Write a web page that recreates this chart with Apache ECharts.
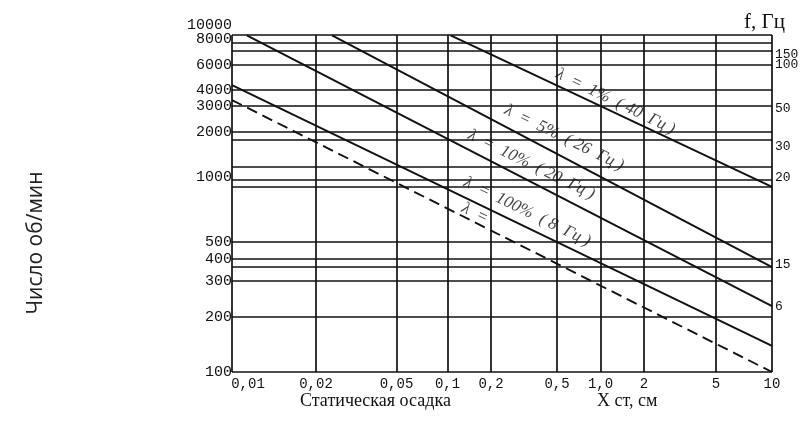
<!DOCTYPE html>
<html><head><meta charset="utf-8">
<script src="https://cdn.jsdelivr.net/npm/echarts@6/dist/echarts.min.js"></script>
<style>html,body{margin:0;padding:0;background:#fff}#c{width:805px;height:432px}</style>
</head><body><div id="c"></div>
<script>
// ---------- data ----------
const xTickValues = [0.01, 0.02, 0.05, 0.1, 0.2, 0.5, 1, 2, 5, 10];
const xTickLabels = ['0,01', '0,02', '0,05', '0,1', '0,2', '0,5', '1,0', '2', '5', '10'];
const yTickValues = [100, 200, 300, 400, 500, 1000, 2000, 3000, 4000, 6000, 8000, 10000];
const yTickLabels = ['100', '200', '300', '400', '500', '1000', '2000', '3000', '4000', '6000', '8000', '10000'];
const fTickValues = [150, 100, 50, 30, 20, 15, 6];
const fTickLabels = ['150', '100', '50', '30', '20', '15', '6'];
// horizontal rulings of the nomogram, об/мин
const hRulings = [7650, 7000, 6000, 4000, 3000, 2000, 1770, 1170, 970, 900, 500, 400, 360, 300, 200];
// curves: X ст (см) and число об/мин at both ends
const curveNames = ['λ = 1%', 'λ = 5%', 'λ = 10%', 'λ = 100%', 'λ'];
const curveX = [[0.105, 10], [0.024, 10], [0.0113, 10], [0.01, 10], [0.01, 10]];
const curveRpm = [[8500, 900], [8500, 360], [8500, 226], [4340, 139], [3345, 100]];
// handwritten notes along the curves
const noteTexts = ['λ  =  1%  ( 40  Гц )', 'λ  =  5%  ( 26  Гц )', 'λ  =  10%  ( 20  Гц )', 'λ  =  100%  ( 8  Гц )', 'λ  ='];
const noteX = [1.27, 0.56, 0.35, 0.33, 0.155];
const noteRpm = [3250, 1830, 1210, 690, 680];

// ---------- calibration of the drawing's non-uniform scales (tick -> share of axis length) ----------
const xTickFrac = [0, 0.1556, 0.3046, 0.3991, 0.4796, 0.6019, 0.6824, 0.7630, 0.8963, 1];
const yTickFrac = [0, 0.1632, 0.2700, 0.3353, 0.3858, 0.5786, 0.7122, 0.7893, 0.8368, 0.9110, 0.9881, 1.0297];
const fTickFrac = [0.9436, 0.9139, 0.7834, 0.6706, 0.5757, 0.3175, 0.1929];

function calib(v, ticks, fracs) {
  let i = 0;
  while (i < ticks.length - 2 && v > ticks[i + 1]) i++;
  const a = Math.log(ticks[i]), b = Math.log(ticks[i + 1]);
  return fracs[i] + (Math.log(v) - a) / (b - a) * (fracs[i + 1] - fracs[i]);
}
const sx = v => calib(v, xTickValues, xTickFrac);
const sy = v => calib(v, yTickValues, yTickFrac);
function nearestLabel(v, fracs, labels) {
  let best = 0;
  fracs.forEach((f, i) => { if (Math.abs(f - v) < Math.abs(fracs[best] - v)) best = i; });
  return labels[best];
}

const INK = '#111';
const mono = 'Liberation Mono';
const serif = 'Liberation Serif';

const rulings = [];
// frame
rulings.push([{ coord: [0, 0] }, { coord: [1, 0] }]);
rulings.push([{ coord: [0, 1] }, { coord: [1, 1] }]);
xTickFrac.forEach(f => rulings.push([{ coord: [f, 0] }, { coord: [f, 1] }]));
hRulings.forEach(r => rulings.push([{ coord: [0, sy(r)] }, { coord: [1, sy(r)] }]));

const series = [{
  type: 'line', data: [[0, 0]], symbol: 'none', lineStyle: { opacity: 0 }, silent: true,
  markLine: {
    silent: true, symbol: ['none', 'none'], label: { show: false },
    lineStyle: { color: INK, width: 1.7, type: 'solid' }, emphasis: { disabled: true },
    data: rulings
  }
}];
curveNames.forEach((n, i) => {
  series.push({
    name: n, type: 'line', symbol: 'none', silent: true,
    data: curveX[i].map((x, k) => [sx(x), sy(curveRpm[i][k])]),
    lineStyle: { color: INK, width: 1.9, type: i === 4 ? [11, 6] : 'solid' }
  });
});
series.push({
  type: 'scatter', symbolSize: 0, silent: true,
  data: noteTexts.map((t, i) => ({ value: [sx(noteX[i]), sy(noteRpm[i])], name: t })),
  label: {
    show: true, position: 'inside', formatter: p => p.name, rotate: -26,
    fontFamily: serif, fontStyle: 'italic', fontSize: 17, color: INK
  }
});

// value axes carrying the tick labels; neighbours are split over two twin axes so none is hidden
function labelAxis(position, fracs, labels, parity, fontSize, margin) {
  const vals = fracs.filter((f, i) => i % 2 === parity);
  return {
    type: 'value', min: 0, max: 1.03, position: position, offset: 0,
    axisLine: { show: false }, axisTick: { show: false }, splitLine: { show: false },
    axisLabel: {
      customValues: vals, margin: margin, fontFamily: mono, fontSize: fontSize, color: INK,
      showMinLabel: true, showMaxLabel: true,
      formatter: v => nearestLabel(v, fracs, labels)
    }
  };
}

const chart = echarts.init(document.getElementById('c'));
chart.setOption({
  animation: false,
  backgroundColor: '#fff',
  grid: { left: 232, right: 33, top: 25, bottom: 60 },
  xAxis: {
    type: 'value', min: 0, max: 1,
    axisLine: { show: false }, axisTick: { show: false }, splitLine: { show: false },
    axisLabel: {
      customValues: xTickFrac, margin: 5, fontFamily: mono, fontSize: 14, color: INK,
      showMinLabel: true, showMaxLabel: true,
      formatter: v => {
        const t = nearestLabel(v, xTickFrac, xTickLabels);
        return v < 0.01 ? '{a|' + t + '}' : t;
      },
      rich: { a: { padding: [0, 0, 0, 32], fontFamily: mono, fontSize: 14, color: INK } }
    }
  },
  yAxis: [
    labelAxis('left', yTickFrac, yTickLabels, 0, 15, 0),
    labelAxis('left', yTickFrac, yTickLabels, 1, 15, 0),
    labelAxis('right', fTickFrac, fTickLabels, 0, 13, 3),
    labelAxis('right', fTickFrac, fTickLabels, 1, 13, 3)
  ],
  graphic: [
    { type: 'text', left: 300, top: 392, style: { text: 'Статическая осадка', font: '18px "Liberation Serif"', fill: INK } },
    { type: 'text', left: 597, top: 392, style: { text: 'X ст, см', font: '18px "Liberation Serif"', fill: INK } },
    { type: 'text', left: 744, top: 12, style: { text: 'f, Гц', font: '21px "Liberation Serif"', fill: INK } },
    { type: 'text', x: 36, y: 243, rotation: Math.PI / 2,
      style: { text: 'Число об/мин', font: '21px "Open Sans"', fill: '#222', align: 'center', verticalAlign: 'middle' } }
  ],
  series: series
});
</script>
</body></html>
